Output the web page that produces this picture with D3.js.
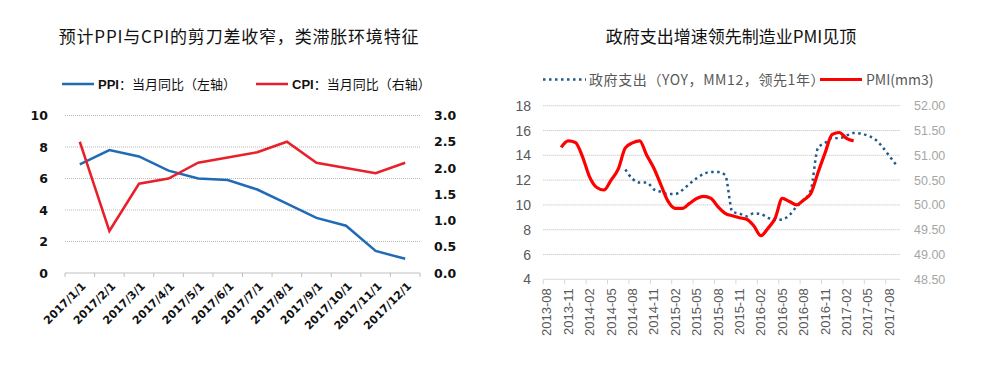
<!DOCTYPE html>
<html>
<head>
<meta charset="utf-8">
<script src="https://cdn.jsdelivr.net/npm/d3@7"></script>
<style>
  body { margin: 0; background: #fff; }
  svg { display: block; }
</style>
</head>
<body>
<div id="chart"></div>
<script>
// ---- left chart data ----
const leftMonths = ["2017/1/1", "2017/2/1", "2017/3/1", "2017/4/1", "2017/5/1", "2017/6/1",
  "2017/7/1", "2017/8/1", "2017/9/1", "2017/10/1", "2017/11/1", "2017/12/1"];
const ppi = [6.9, 7.8, 7.4, 6.5, 6.0, 5.9, 5.3, 4.4, 3.5, 3.0, 1.4, 0.9];
const cpi = [2.5, 0.8, 1.7, 1.8, 2.1, 2.2, 2.3, 2.5, 2.1, 2.0, 1.9, 2.1];
const leftAxisTicks = [0, 2, 4, 6, 8, 10];
const rightAxisTicks = [0, 0.5, 1.0, 1.5, 2.0, 2.5, 3.0];

// ---- right chart data ----
const rightMonths = [
  "2013-08", "2013-09", "2013-10", "2013-11", "2013-12", "2014-01", "2014-02", "2014-03",
  "2014-04", "2014-05", "2014-06", "2014-07", "2014-08", "2014-09", "2014-10", "2014-11",
  "2014-12", "2015-01", "2015-02", "2015-03", "2015-04", "2015-05", "2015-06", "2015-07",
  "2015-08", "2015-09", "2015-10", "2015-11", "2015-12", "2016-01", "2016-02", "2016-03",
  "2016-04", "2016-05", "2016-06", "2016-07", "2016-08", "2016-09", "2016-10", "2016-11",
  "2016-12", "2017-01", "2017-02", "2017-03", "2017-04", "2017-05", "2017-06", "2017-07",
  "2017-08", "2017-09"];
const rightTickMonths = ["2013-08", "2013-11", "2014-02", "2014-05", "2014-08", "2014-11",
  "2015-02", "2015-05", "2015-08", "2015-11", "2016-02", "2016-05", "2016-08", "2016-11",
  "2017-02", "2017-05", "2017-08"];
const govSpend = [
  null, null, null, null, null, null, null, null, null, null, null,
  12.85, 12.1, 11.8, 11.8, 11.25, 11.05, 10.87, 10.88, 11.2, 11.7, 12.15, 12.5, 12.66,
  12.65, 12.4, 9.45, 9.3, 9.08, 9.32, 9.26, 8.95, 8.78, 8.83, 9.18, 9.85, 10.39, 11.2,
  14.6, 15.0, 15.4, 15.37, 15.6, 15.8, 15.75, 15.58, 15.29, 14.7, 13.95, 13.2];
const pmi = [
  null, null,
  51.16, 51.29, 51.26, 50.97, 50.56, 50.35, 50.30, 50.50, 50.72, 51.15, 51.25, 51.29,
  51.0, 50.74, 50.40, 50.07, 49.93, 49.93, 50.03, 50.13, 50.17, 50.13, 49.96, 49.83,
  49.78, 49.74, 49.71, 49.58, 49.38, 49.53, 49.73, 50.13, 50.07, 50.0, 50.10, 50.23,
  50.65, 51.05, 51.42, 51.46, 51.34, 51.29,
  null, null, null, null, null, null];
const govTicks = [4, 6, 8, 10, 12, 14, 16, 18];
const pmiTicks = [48.5, 49.0, 49.5, 50.0, 50.5, 51.0, 51.5, 52.0];

const svg = d3.select("#chart").append("svg")
  .attr("width", 986).attr("height", 375);

const cjk = "'Noto Sans CJK SC', 'Liberation Sans', sans-serif";
const latin = "'Liberation Sans', Arial, sans-serif";
const boldFont = "'DejaVu Sans', Verdana, sans-serif";

// ================= LEFT CHART =================
const L = { left: 65, right: 420, top: 115.5, bottom: 273 };
const xL = d3.scaleBand().domain(leftMonths).range([L.left, L.right]);
const yL = d3.scaleLinear().domain([0, 10]).range([L.bottom, L.top]);
const yL2 = d3.scaleLinear().domain([0, 3]).range([L.bottom, L.top]);
const bwL = xL.bandwidth();

const gL = svg.append("g");

gL.append("text")
  .attr("x", 239).attr("y", 43)
  .attr("text-anchor", "middle")
  .attr("font-family", cjk).attr("font-size", "17px").attr("letter-spacing", "0.8px")
  .attr("fill", "#111")
  .text("预计PPI与CPI的剪刀差收窄，类滞胀环境特征");

// legend
const legL = [
  { x: 62, color: "#1f6bb5", bold: "PPI", rest: "：当月同比（左轴）" },
  { x: 256, color: "#e8202a", bold: "CPI", rest: "：当月同比（右轴）" }
];
legL.forEach((d) => {
  gL.append("line")
    .attr("x1", d.x).attr("x2", d.x + 32).attr("y1", 84).attr("y2", 84)
    .attr("stroke", d.color).attr("stroke-width", 2.5);
  const t = gL.append("text")
    .attr("x", d.x + 36).attr("y", 89)
    .attr("font-family", cjk).attr("font-size", "13px").attr("fill", "#111");
  t.append("tspan").attr("font-weight", "bold").attr("font-family", latin).text(d.bold);
  t.append("tspan").text(d.rest);
});

// gridlines
gL.append("g").selectAll("line")
  .data(leftAxisTicks.filter((v) => v > 0))
  .join("line")
  .attr("x1", L.left).attr("x2", L.right)
  .attr("y1", (d) => yL(d)).attr("y2", (d) => yL(d))
  .attr("stroke", "#b8b8b8").attr("stroke-width", 1).attr("stroke-dasharray", "1,1");

// baseline + ticks
gL.append("line")
  .attr("x1", L.left).attr("x2", L.right).attr("y1", L.bottom).attr("y2", L.bottom)
  .attr("stroke", "#bfbfbf").attr("stroke-width", 1);
gL.append("g").selectAll("line")
  .data(leftMonths.map((m) => xL(m)).concat([xL.range()[1]]))
  .join("line")
  .attr("x1", (d) => d).attr("x2", (d) => d)
  .attr("y1", L.bottom).attr("y2", L.bottom + 4)
  .attr("stroke", "#bfbfbf");

// y labels
gL.append("g").selectAll("text")
  .data(leftAxisTicks)
  .join("text")
  .attr("x", 48).attr("y", (d) => yL(d)).attr("dy", "0.36em")
  .attr("text-anchor", "end")
  .attr("font-family", boldFont).attr("font-weight", "bold").attr("font-size", "12.5px").attr("fill", "#111")
  .text((d) => d);
gL.append("g").selectAll("text")
  .data(rightAxisTicks)
  .join("text")
  .attr("x", 434).attr("y", (d) => yL2(d)).attr("dy", "0.36em")
  .attr("text-anchor", "start")
  .attr("font-family", boldFont).attr("font-weight", "bold").attr("font-size", "12.5px").attr("fill", "#111")
  .text((d) => d3.format(".1f")(d));

// x labels
gL.append("g").selectAll("text")
  .data(leftMonths)
  .join("text")
  .attr("transform", (d) => `translate(${xL(d) + bwL / 2 + 4},${L.bottom + 11}) rotate(-45)`)
  .attr("text-anchor", "end").attr("dy", "0.35em")
  .attr("font-family", boldFont).attr("font-weight", "bold").attr("font-size", "11px").attr("fill", "#111")
  .text((d) => d);

// lines
const lineL = d3.line().x((d, i) => xL(leftMonths[i]) + bwL / 2).y((d) => yL(d));
const lineL2 = d3.line().x((d, i) => xL(leftMonths[i]) + bwL / 2).y((d) => yL2(d));
gL.append("path").attr("d", lineL(ppi))
  .attr("fill", "none").attr("stroke", "#1f6bb5").attr("stroke-width", 2.5);
gL.append("path").attr("d", lineL2(cpi))
  .attr("fill", "none").attr("stroke", "#e8202a").attr("stroke-width", 2.5);

// ================= RIGHT CHART =================
const R = { left: 543.3, right: 900, top: 105.7, bottom: 279.3 };
const xR = d3.scaleBand().domain(rightMonths).range([R.left, R.right]);
const yR = d3.scaleLinear().domain([4, 18]).range([R.bottom, R.top]);
const yR2 = d3.scaleLinear().domain([48.5, 52]).range([R.bottom, R.top]);
const bwR = xR.bandwidth();

const gR = svg.append("g");

gR.append("text")
  .attr("x", 731).attr("y", 43)
  .attr("text-anchor", "middle")
  .attr("font-family", cjk).attr("font-size", "17px").attr("fill", "#111")
  .text("政府支出增速领先制造业PMI见顶");

// legend
gR.append("line")
  .attr("x1", 543).attr("x2", 586).attr("y1", 79.5).attr("y2", 79.5)
  .attr("stroke", "#1f5a8c").attr("stroke-width", 2.5).attr("stroke-dasharray", "2.5,3.5");
gR.append("text")
  .attr("x", 589).attr("y", 85)
  .attr("font-family", cjk).attr("font-size", "14px").attr("fill", "#595959")
  .attr("letter-spacing", "0.6px")
  .text("政府支出（YOY，MM12，领先1年）");
gR.append("line")
  .attr("x1", 820).attr("x2", 862).attr("y1", 79.5).attr("y2", 79.5)
  .attr("stroke", "#ff0000").attr("stroke-width", 3);
gR.append("text")
  .attr("x", 866).attr("y", 85)
  .attr("font-family", cjk).attr("font-size", "14px").attr("fill", "#595959")
  .text("PMI(mm3)");

// gridlines
gR.append("g").selectAll("line")
  .data(govTicks.filter((v) => v > 4))
  .join("line")
  .attr("x1", R.left).attr("x2", R.right)
  .attr("y1", (d) => yR(d)).attr("y2", (d) => yR(d))
  .attr("stroke", "#bdbdbd").attr("stroke-width", 1).attr("stroke-dasharray", "1,1");

// baseline + ticks
gR.append("line")
  .attr("x1", R.left).attr("x2", R.right).attr("y1", R.bottom).attr("y2", R.bottom)
  .attr("stroke", "#d9d9d9").attr("stroke-width", 1);
gR.append("g").selectAll("line")
  .data(rightTickMonths)
  .join("line")
  .attr("x1", (d) => xR(d)).attr("x2", (d) => xR(d))
  .attr("y1", R.bottom).attr("y2", R.bottom + 5)
  .attr("stroke", "#d9d9d9");

// y labels
gR.append("g").selectAll("text")
  .data(govTicks)
  .join("text")
  .attr("x", 531).attr("y", (d) => yR(d)).attr("dy", "0.36em")
  .attr("text-anchor", "end")
  .attr("font-family", latin).attr("font-size", "14px").attr("fill", "#595959")
  .text((d) => d);
gR.append("g").selectAll("text")
  .data(pmiTicks)
  .join("text")
  .attr("x", 914).attr("y", (d) => yR2(d)).attr("dy", "0.36em")
  .attr("text-anchor", "start")
  .attr("font-family", latin).attr("font-size", "12.5px").attr("fill", "#a6a6a6")
  .text((d) => d3.format(".2f")(d));

// x labels
gR.append("g").selectAll("text")
  .data(rightTickMonths)
  .join("text")
  .attr("transform", (d) => `translate(${xR(d) + bwR / 2},${R.bottom + 9}) rotate(-90)`)
  .attr("text-anchor", "end").attr("dy", "0.35em")
  .attr("font-family", latin).attr("font-size", "13px").attr("fill", "#595959")
  .text((d) => d);

// lines
const govLine = d3.line()
  .defined((d) => d !== null)
  .x((d, i) => xR(rightMonths[i]) + bwR / 2)
  .y((d) => yR(d))
  .curve(d3.curveMonotoneX);
const pmiLine = d3.line()
  .defined((d) => d !== null)
  .x((d, i) => xR(rightMonths[i]) + bwR / 2)
  .y((d) => yR2(d))
  .curve(d3.curveMonotoneX);

gR.append("path").attr("d", govLine(govSpend))
  .attr("fill", "none").attr("stroke", "#1f5a8c").attr("stroke-width", 2.5)
  .attr("stroke-dasharray", "2.5,3.5");
gR.append("path").attr("d", pmiLine(pmi))
  .attr("fill", "none").attr("stroke", "#ff0000").attr("stroke-width", 3.2)
  .attr("stroke-linejoin", "round");
</script>
</body>
</html>
